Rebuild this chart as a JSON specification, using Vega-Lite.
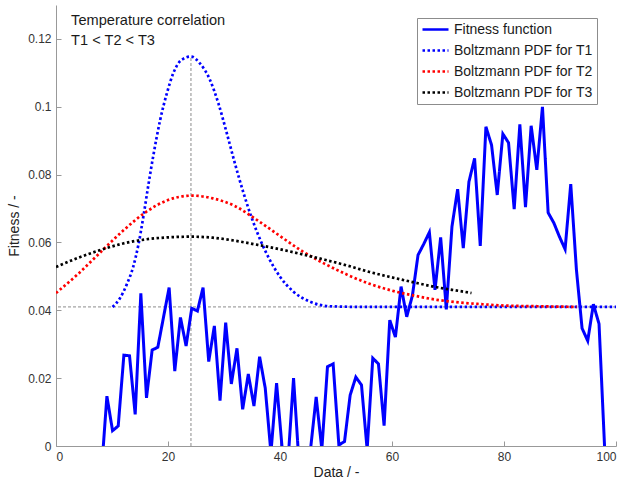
{
  "$schema": "https://vega.github.io/schema/vega-lite/v6.json",
  "width": 560,
  "height": 441,
  "autosize": "none",
  "padding": {"left": 56, "top": 5, "right": 9, "bottom": 40},
  "config": {
    "font": "Liberation Sans",
    "view": {"stroke": null},
    "axis": {"grid": false, "domainColor": "#999999", "tickColor": "#999999", "labelColor": "#333333", "titleColor": "#222222", "labelFontSize": 12, "titleFontSize": 14, "titleFontWeight": "normal", "tickSize": -5, "labelFont": "Liberation Sans", "titleFont": "Liberation Sans"}
  },
  "datasets": {
    "fitness": [
      {"s": "Fitness function", "x": 8.08, "y": -0.0085},
      {"s": "Fitness function", "x": 9.09, "y": 0.0147},
      {"s": "Fitness function", "x": 10.10, "y": 0.0045},
      {"s": "Fitness function", "x": 11.11, "y": 0.0059},
      {"s": "Fitness function", "x": 12.12, "y": 0.0268},
      {"s": "Fitness function", "x": 13.13, "y": 0.0266},
      {"s": "Fitness function", "x": 14.14, "y": 0.0093},
      {"s": "Fitness function", "x": 15.15, "y": 0.045},
      {"s": "Fitness function", "x": 16.16, "y": 0.0142},
      {"s": "Fitness function", "x": 17.17, "y": 0.0283},
      {"s": "Fitness function", "x": 18.18, "y": 0.0291},
      {"s": "Fitness function", "x": 19.19, "y": 0.0379},
      {"s": "Fitness function", "x": 20.20, "y": 0.0467},
      {"s": "Fitness function", "x": 21.21, "y": 0.0221},
      {"s": "Fitness function", "x": 22.22, "y": 0.0379},
      {"s": "Fitness function", "x": 23.23, "y": 0.0295},
      {"s": "Fitness function", "x": 24.24, "y": 0.0406},
      {"s": "Fitness function", "x": 25.25, "y": 0.0398},
      {"s": "Fitness function", "x": 26.26, "y": 0.0467},
      {"s": "Fitness function", "x": 27.27, "y": 0.0249},
      {"s": "Fitness function", "x": 28.28, "y": 0.0354},
      {"s": "Fitness function", "x": 29.29, "y": 0.0134},
      {"s": "Fitness function", "x": 30.30, "y": 0.0364},
      {"s": "Fitness function", "x": 31.31, "y": 0.0183},
      {"s": "Fitness function", "x": 32.32, "y": 0.0288},
      {"s": "Fitness function", "x": 33.33, "y": 0.0108},
      {"s": "Fitness function", "x": 34.34, "y": 0.0212},
      {"s": "Fitness function", "x": 35.35, "y": 0.0118},
      {"s": "Fitness function", "x": 36.36, "y": 0.0263},
      {"s": "Fitness function", "x": 37.37, "y": 0.017},
      {"s": "Fitness function", "x": 38.38, "y": -0.002},
      {"s": "Fitness function", "x": 39.39, "y": 0.0185},
      {"s": "Fitness function", "x": 40.40, "y": -0.001},
      {"s": "Fitness function", "x": 41.41, "y": -0.005},
      {"s": "Fitness function", "x": 42.42, "y": 0.02},
      {"s": "Fitness function", "x": 43.43, "y": -0.006},
      {"s": "Fitness function", "x": 44.44, "y": -0.005},
      {"s": "Fitness function", "x": 45.45, "y": -0.001},
      {"s": "Fitness function", "x": 46.46, "y": 0.0145},
      {"s": "Fitness function", "x": 47.47, "y": -0.001},
      {"s": "Fitness function", "x": 48.48, "y": 0.0234},
      {"s": "Fitness function", "x": 49.49, "y": 0.0242},
      {"s": "Fitness function", "x": 50.51, "y": 0.0003},
      {"s": "Fitness function", "x": 51.52, "y": 0.0013},
      {"s": "Fitness function", "x": 52.53, "y": 0.015},
      {"s": "Fitness function", "x": 53.54, "y": 0.0203},
      {"s": "Fitness function", "x": 54.55, "y": 0.018},
      {"s": "Fitness function", "x": 55.56, "y": -0.001},
      {"s": "Fitness function", "x": 56.57, "y": 0.0259},
      {"s": "Fitness function", "x": 57.58, "y": 0.0242},
      {"s": "Fitness function", "x": 58.59, "y": 0.006},
      {"s": "Fitness function", "x": 59.60, "y": 0.0371},
      {"s": "Fitness function", "x": 60.61, "y": 0.0321},
      {"s": "Fitness function", "x": 61.62, "y": 0.047},
      {"s": "Fitness function", "x": 62.63, "y": 0.0381},
      {"s": "Fitness function", "x": 63.64, "y": 0.0443},
      {"s": "Fitness function", "x": 64.65, "y": 0.0563},
      {"s": "Fitness function", "x": 65.66, "y": 0.0595},
      {"s": "Fitness function", "x": 66.67, "y": 0.063},
      {"s": "Fitness function", "x": 67.68, "y": 0.046},
      {"s": "Fitness function", "x": 68.69, "y": 0.0615},
      {"s": "Fitness function", "x": 69.70, "y": 0.0403},
      {"s": "Fitness function", "x": 70.71, "y": 0.0647},
      {"s": "Fitness function", "x": 71.72, "y": 0.0757},
      {"s": "Fitness function", "x": 72.73, "y": 0.0583},
      {"s": "Fitness function", "x": 73.74, "y": 0.0779},
      {"s": "Fitness function", "x": 74.75, "y": 0.0848},
      {"s": "Fitness function", "x": 75.76, "y": 0.059},
      {"s": "Fitness function", "x": 76.77, "y": 0.0941},
      {"s": "Fitness function", "x": 77.78, "y": 0.0887},
      {"s": "Fitness function", "x": 78.79, "y": 0.074},
      {"s": "Fitness function", "x": 79.80, "y": 0.092},
      {"s": "Fitness function", "x": 80.81, "y": 0.0894},
      {"s": "Fitness function", "x": 81.82, "y": 0.0698},
      {"s": "Fitness function", "x": 82.83, "y": 0.0948},
      {"s": "Fitness function", "x": 83.84, "y": 0.0704},
      {"s": "Fitness function", "x": 84.85, "y": 0.0944},
      {"s": "Fitness function", "x": 85.86, "y": 0.0814},
      {"s": "Fitness function", "x": 86.87, "y": 0.1},
      {"s": "Fitness function", "x": 87.88, "y": 0.0688},
      {"s": "Fitness function", "x": 88.89, "y": 0.0658},
      {"s": "Fitness function", "x": 89.90, "y": 0.0617},
      {"s": "Fitness function", "x": 90.91, "y": 0.058},
      {"s": "Fitness function", "x": 91.92, "y": 0.0772},
      {"s": "Fitness function", "x": 92.93, "y": 0.052},
      {"s": "Fitness function", "x": 93.94, "y": 0.0347},
      {"s": "Fitness function", "x": 94.95, "y": 0.031},
      {"s": "Fitness function", "x": 95.96, "y": 0.0418},
      {"s": "Fitness function", "x": 96.97, "y": 0.036},
      {"s": "Fitness function", "x": 97.98, "y": -0.001}
    ],
    "curves": [
      {"s": "Boltzmann PDF for T1", "x": 10.1, "y": 0.041},
      {"s": "Boltzmann PDF for T1", "x": 11.4, "y": 0.0435},
      {"s": "Boltzmann PDF for T1", "x": 12.6, "y": 0.0475},
      {"s": "Boltzmann PDF for T1", "x": 13.8, "y": 0.0529},
      {"s": "Boltzmann PDF for T1", "x": 14.7, "y": 0.0592},
      {"s": "Boltzmann PDF for T1", "x": 15.6, "y": 0.0676},
      {"s": "Boltzmann PDF for T1", "x": 16.5, "y": 0.0770},
      {"s": "Boltzmann PDF for T1", "x": 17.4, "y": 0.0858},
      {"s": "Boltzmann PDF for T1", "x": 18.6, "y": 0.0961},
      {"s": "Boltzmann PDF for T1", "x": 19.8, "y": 0.104},
      {"s": "Boltzmann PDF for T1", "x": 20.95, "y": 0.1099},
      {"s": "Boltzmann PDF for T1", "x": 22.4, "y": 0.1138},
      {"s": "Boltzmann PDF for T1", "x": 24.1, "y": 0.1148},
      {"s": "Boltzmann PDF for T1", "x": 25.7, "y": 0.1128},
      {"s": "Boltzmann PDF for T1", "x": 27.5, "y": 0.1079},
      {"s": "Boltzmann PDF for T1", "x": 29.0, "y": 0.101},
      {"s": "Boltzmann PDF for T1", "x": 30.5, "y": 0.0922},
      {"s": "Boltzmann PDF for T1", "x": 32.0, "y": 0.0830},
      {"s": "Boltzmann PDF for T1", "x": 33.5, "y": 0.0745},
      {"s": "Boltzmann PDF for T1", "x": 35.0, "y": 0.0670},
      {"s": "Boltzmann PDF for T1", "x": 36.5, "y": 0.0607},
      {"s": "Boltzmann PDF for T1", "x": 38.2, "y": 0.0548},
      {"s": "Boltzmann PDF for T1", "x": 40.0, "y": 0.0499},
      {"s": "Boltzmann PDF for T1", "x": 42.4, "y": 0.0455},
      {"s": "Boltzmann PDF for T1", "x": 45.4, "y": 0.0425},
      {"s": "Boltzmann PDF for T1", "x": 48.9, "y": 0.0412},
      {"s": "Boltzmann PDF for T1", "x": 55.0, "y": 0.041},
      {"s": "Boltzmann PDF for T1", "x": 100.0, "y": 0.041},
      {"s": "Boltzmann PDF for T2", "x": 0, "y": 0.0451},
      {"s": "Boltzmann PDF for T2", "x": 4, "y": 0.0508},
      {"s": "Boltzmann PDF for T2", "x": 8, "y": 0.0572},
      {"s": "Boltzmann PDF for T2", "x": 12, "y": 0.0635},
      {"s": "Boltzmann PDF for T2", "x": 16, "y": 0.0689},
      {"s": "Boltzmann PDF for T2", "x": 20, "y": 0.0725},
      {"s": "Boltzmann PDF for T2", "x": 24.3, "y": 0.0738},
      {"s": "Boltzmann PDF for T2", "x": 28, "y": 0.073},
      {"s": "Boltzmann PDF for T2", "x": 32, "y": 0.0707},
      {"s": "Boltzmann PDF for T2", "x": 36, "y": 0.0665},
      {"s": "Boltzmann PDF for T2", "x": 40, "y": 0.0619},
      {"s": "Boltzmann PDF for T2", "x": 44, "y": 0.0574},
      {"s": "Boltzmann PDF for T2", "x": 48, "y": 0.0537},
      {"s": "Boltzmann PDF for T2", "x": 52, "y": 0.0505},
      {"s": "Boltzmann PDF for T2", "x": 56, "y": 0.0478},
      {"s": "Boltzmann PDF for T2", "x": 60, "y": 0.0458},
      {"s": "Boltzmann PDF for T2", "x": 64, "y": 0.0443},
      {"s": "Boltzmann PDF for T2", "x": 68, "y": 0.0431},
      {"s": "Boltzmann PDF for T2", "x": 72, "y": 0.0423},
      {"s": "Boltzmann PDF for T2", "x": 76, "y": 0.0418},
      {"s": "Boltzmann PDF for T2", "x": 80, "y": 0.0414},
      {"s": "Boltzmann PDF for T2", "x": 86, "y": 0.0412},
      {"s": "Boltzmann PDF for T2", "x": 93, "y": 0.041},
      {"s": "Boltzmann PDF for T3", "x": 0, "y": 0.0528},
      {"s": "Boltzmann PDF for T3", "x": 4, "y": 0.0555},
      {"s": "Boltzmann PDF for T3", "x": 8, "y": 0.0578},
      {"s": "Boltzmann PDF for T3", "x": 12, "y": 0.0597},
      {"s": "Boltzmann PDF for T3", "x": 16, "y": 0.0609},
      {"s": "Boltzmann PDF for T3", "x": 20, "y": 0.0615},
      {"s": "Boltzmann PDF for T3", "x": 24, "y": 0.0617},
      {"s": "Boltzmann PDF for T3", "x": 28, "y": 0.0614},
      {"s": "Boltzmann PDF for T3", "x": 32, "y": 0.0605},
      {"s": "Boltzmann PDF for T3", "x": 36, "y": 0.0593},
      {"s": "Boltzmann PDF for T3", "x": 40, "y": 0.058},
      {"s": "Boltzmann PDF for T3", "x": 44, "y": 0.0565},
      {"s": "Boltzmann PDF for T3", "x": 48, "y": 0.0549},
      {"s": "Boltzmann PDF for T3", "x": 52, "y": 0.0532},
      {"s": "Boltzmann PDF for T3", "x": 56, "y": 0.0513},
      {"s": "Boltzmann PDF for T3", "x": 60, "y": 0.0497},
      {"s": "Boltzmann PDF for T3", "x": 64, "y": 0.0482},
      {"s": "Boltzmann PDF for T3", "x": 68, "y": 0.0468},
      {"s": "Boltzmann PDF for T3", "x": 72, "y": 0.0457},
      {"s": "Boltzmann PDF for T3", "x": 74.2, "y": 0.0451}
    ],
    "hrule": [{"y": 0.041}],
    "vrule": [{"x": 24.1, "y": 0, "y2": 0.1148}],
    "notes": [
      {"x": 2.7, "y": 0.1252, "t": "Temperature correlation"},
      {"x": 2.7, "y": 0.1195, "t": "T1 < T2 < T3"}
    ]
  },
  "encoding": {
    "x": {"field": "x", "type": "quantitative", "scale": {"domain": [0, 100], "nice": false}, "axis": {"values": [0, 20, 40, 60, 80, 100], "title": "Data / -", "labelPadding": 10, "titlePadding": 3}},
    "y": {"field": "y", "type": "quantitative", "scale": {"domain": [0, 0.13], "nice": false, "zero": false}, "axis": {"values": [0, 0.02, 0.04, 0.06, 0.08, 0.1, 0.12], "format": "~g", "title": "Fitness / -", "labelPadding": 10, "titlePadding": 6}}
  },
  "layer": [
    {
      "data": {"name": "hrule"},
      "mark": {"type": "rule", "color": "#8c8c8c", "strokeWidth": 1, "strokeDash": [3, 2]},
      "encoding": {"x": null, "y": {"field": "y", "type": "quantitative"}}
    },
    {
      "data": {"name": "vrule"},
      "mark": {"type": "rule", "color": "#8c8c8c", "strokeWidth": 1, "strokeDash": [3, 2]},
      "encoding": {"y2": {"field": "y2"}}
    },
    {
      "data": {"name": "fitness"},
      "mark": {"type": "line", "strokeWidth": 3, "clip": true, "strokeJoin": "miter"},
      "encoding": {
        "color": {"field": "s", "type": "nominal", "scale": {"domain": ["Fitness function", "Boltzmann PDF for T1", "Boltzmann PDF for T2", "Boltzmann PDF for T3"], "range": ["#0000ff", "#0000ff", "#ff0000", "#000000"]},
          "legend": {"title": null, "orient": "none", "legendX": 361, "legendY": 13, "symbolType": "stroke", "symbolStrokeWidth": 2.7, "symbolSize": 676, "clipHeight": 15, "labelFontSize": 14, "labelColor": "#1a1a1a", "labelFont": "Liberation Sans", "strokeColor": "#8c8c8c", "fillColor": "#ffffff", "padding": 4, "rowPadding": 6, "labelOffset": 4, "labelLimit": 300}},
        "strokeDash": {"field": "s", "type": "nominal", "scale": {"domain": ["Fitness function", "Boltzmann PDF for T1", "Boltzmann PDF for T2", "Boltzmann PDF for T3"], "range": [[1, 0], [2.5, 2.5], [2.5, 2.5], [2.5, 2.5]]}, "legend": {"title": null, "orient": "none", "legendX": 361, "legendY": 13}}
      }
    },
    {
      "data": {"name": "curves"},
      "mark": {"type": "line", "strokeWidth": 2.7, "clip": true, "interpolate": "monotone"},
      "encoding": {
        "color": {"field": "s", "type": "nominal"},
        "strokeDash": {"field": "s", "type": "nominal"}
      }
    },
    {
      "data": {"name": "notes"},
      "mark": {"type": "text", "align": "left", "baseline": "middle", "fontSize": 14.6, "font": "Liberation Sans", "color": "#1a1a1a"},
      "encoding": {"text": {"field": "t"}}
    }
  ]
}
